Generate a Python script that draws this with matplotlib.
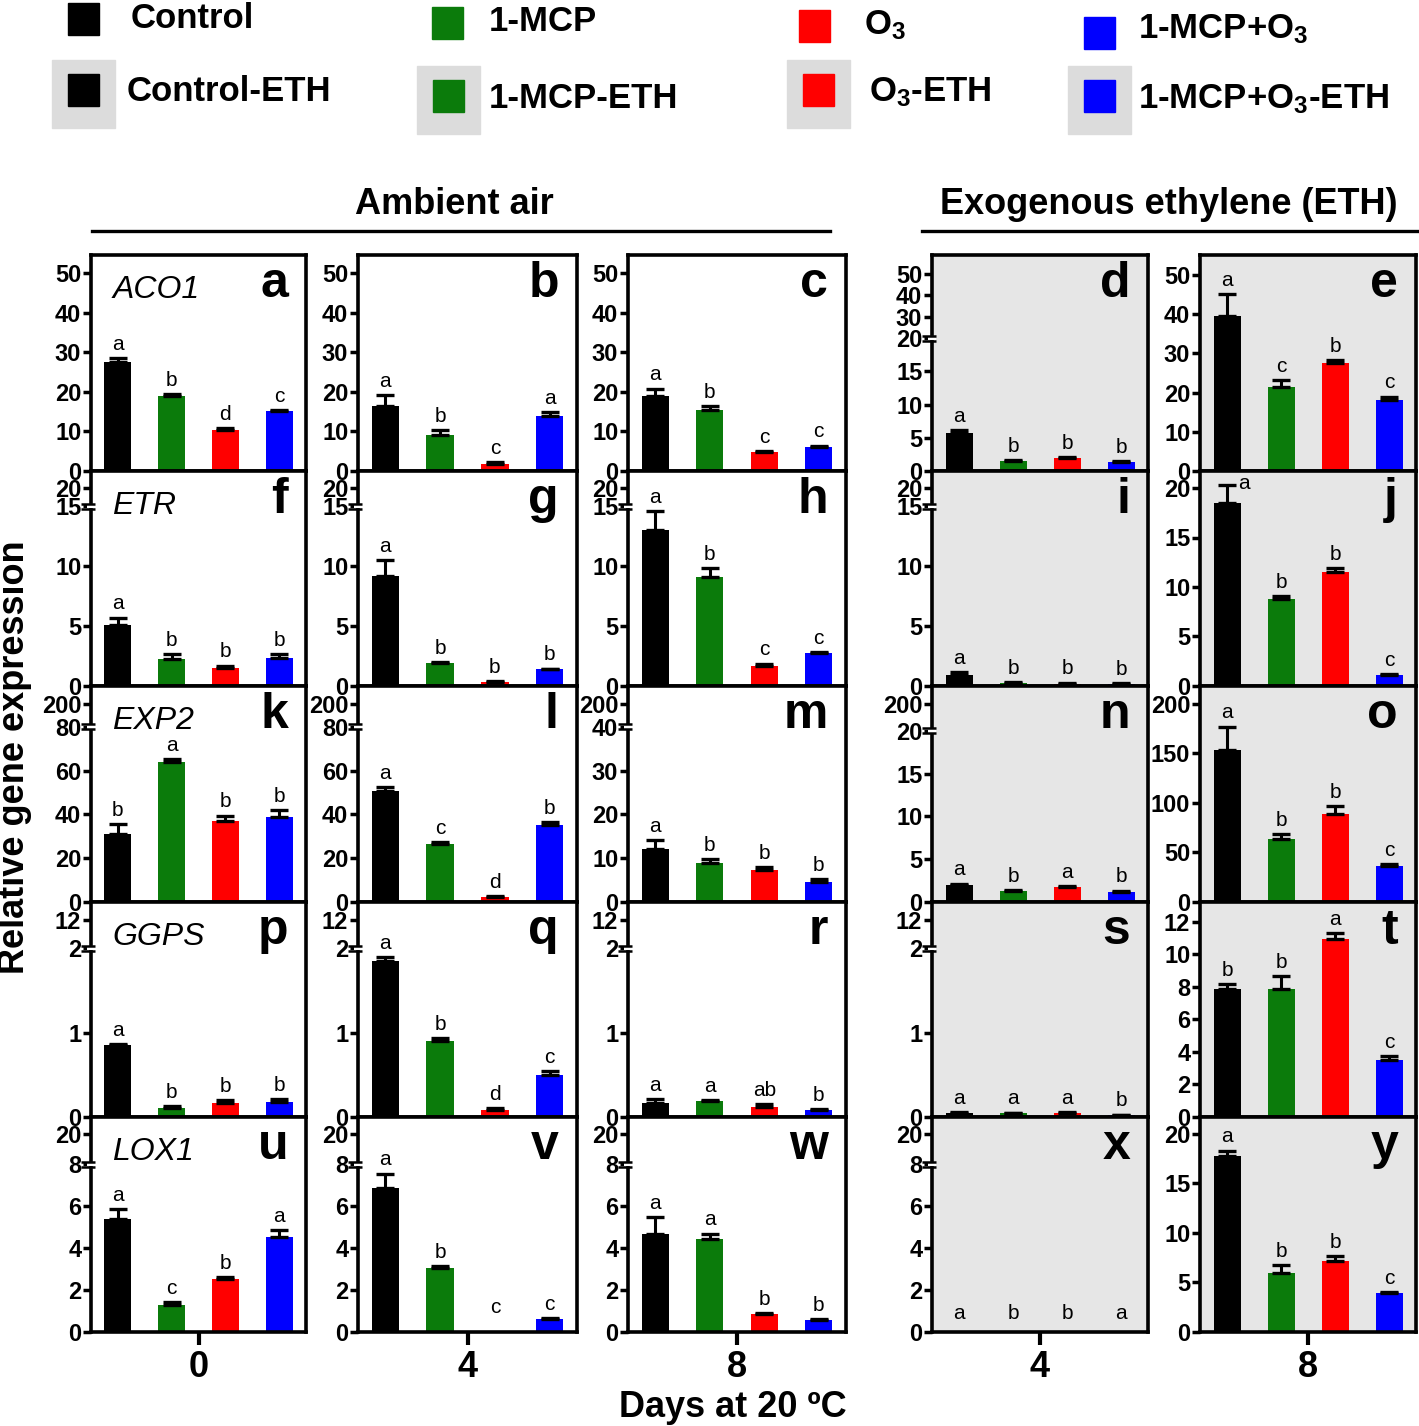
import matplotlib
matplotlib.use('Agg')
import matplotlib.pyplot as plt
import numpy as np
from matplotlib.patches import Rectangle
from matplotlib.transforms import blended_transform_factory, ScaledTranslation

plt.rcParams['font.family'] = ['Liberation Sans', 'DejaVu Sans']
plt.rcParams['mathtext.fontset'] = 'custom'
plt.rcParams['mathtext.rm'] = 'Liberation Sans:bold'
plt.rcParams['mathtext.bf'] = 'Liberation Sans:bold'
plt.rcParams['mathtext.it'] = 'Liberation Sans:bold:italic'

# --- data -------------------------------------------------------------
treatments = ['Control', '1-MCP', 'O3', '1-MCP+O3']
bar_colors = ['#000000', '#0b7b0b', '#ff0000', '#0000ff']
genes = ['ACO1', 'ETR', 'EXP2', 'GGPS', 'LOX1']
days = ['0', '4', '8', '4', '8']
panel_ids = 'abcdefghijklmnopqrstuvwxy'

# one inner list per column: day 0, 4, 8 (ambient air), day 4, 8 (ETH)
aco1_mean = [[27.4, 18.9, 10.4, 15.2], [16.5, 9.2, 1.8, 14.0], [19.0, 15.5, 4.8, 6.1],
             [5.65, 1.5, 1.9, 1.3], [39.6, 21.4, 27.5, 18.0]]
aco1_err = [[1.2, 0.5, 0.4, 0.2], [2.6, 1.1, 0.4, 0.8], [1.8, 0.9, 0.2, 0.3],
            [0.5, 0.2, 0.25, 0.2], [5.5, 1.7, 0.7, 1.0]]
aco1_sig = [['a', 'b', 'd', 'c'], ['a', 'b', 'c', 'a'], ['a', 'b', 'c', 'c'],
            ['a', 'b', 'b', 'b'], ['a', 'c', 'b', 'c']]

etr_mean = [[5.1, 2.26, 1.5, 2.35], [9.2, 1.9, 0.3, 1.4], [13.0, 9.05, 1.65, 2.74],
            [0.95, 0.22, 0.2, 0.14], [18.5, 8.8, 11.5, 1.08]]
etr_err = [[0.6, 0.4, 0.2, 0.3], [1.3, 0.1, 0.1, 0.05], [1.55, 0.75, 0.22, 0.11],
           [0.22, 0.08, 0.08, 0.08], [1.8, 0.25, 0.4, 0.12]]
etr_sig = [['a', 'b', 'b', 'b'], ['a', 'b', 'b', 'b'], ['a', 'b', 'c', 'c'],
           ['a', 'b', 'b', 'b'], ['a', 'b', 'b', 'c']]

exp2_mean = [[31.2, 64.2, 37.1, 38.9], [50.8, 26.5, 2.1, 35.1], [12.2, 8.85, 7.2, 4.5],
             [1.95, 1.25, 1.76, 1.2], [153.0, 63.7, 89.2, 36.3]]
exp2_err = [[4.3, 1.3, 2.4, 3.2], [1.9, 0.8, 0.7, 1.3], [1.9, 1.0, 0.7, 0.65],
            [0.2, 0.15, 0.12, 0.13], [24.0, 4.4, 7.4, 2.3]]
exp2_sig = [['b', 'a', 'b', 'b'], ['a', 'c', 'd', 'b'], ['a', 'b', 'b', 'b'],
            ['a', 'b', 'a', 'b'], ['a', 'b', 'b', 'c']]

ggps_mean = [[0.855, 0.11, 0.165, 0.173], [1.85, 0.905, 0.088, 0.5], [0.17, 0.19, 0.12, 0.084],
             [0.048, 0.044, 0.048, 0.024], [7.87, 7.87, 10.9, 3.48]]
ggps_err = [[0.012, 0.015, 0.032, 0.037], [0.04, 0.025, 0.022, 0.04], [0.04, 0.01, 0.036, 0.012],
            [0.012, 0.008, 0.008, 0.004], [0.31, 0.78, 0.4, 0.25]]
ggps_sig = [['a', 'b', 'b', 'b'], ['a', 'b', 'd', 'c'], ['a', 'a', 'ab', 'b'],
            ['a', 'a', 'a', 'b'], ['b', 'b', 'a', 'c']]

lox1_mean = [[5.39, 1.28, 2.51, 4.53], [6.86, 3.06, 0.0, 0.6], [4.67, 4.43, 0.85, 0.59],
             [0.02, 0.02, 0.02, 0.02], [17.8, 5.95, 7.18, 3.91]]
lox1_err = [[0.45, 0.14, 0.11, 0.32], [0.68, 0.08, 0.0, 0.08], [0.79, 0.26, 0.06, 0.03],
            [0.0, 0.0, 0.0, 0.0], [0.5, 0.78, 0.47, 0.14]]
lox1_sig = [['a', 'c', 'b', 'a'], ['a', 'b', 'c', 'c'], ['a', 'a', 'b', 'b'],
            ['a', 'b', 'b', 'a'], ['a', 'b', 'b', 'c']]

means = [aco1_mean, etr_mean, exp2_mean, ggps_mean, lox1_mean]
errs = [aco1_err, etr_err, exp2_err, ggps_err, lox1_err]
sigs = [aco1_sig, etr_sig, exp2_sig, ggps_sig, lox1_sig]

# --- y axis layout: (knot values, knot heights in px, ticks, break value) ----
axis_cfg = [
    [([0, 50], [0, 198], [0, 10, 20, 30, 40, 50], None)] * 3 +
    [([0, 20, 50], [0, 133, 197], [0, 5, 10, 15, 20, 30, 40, 50], 20),
     ([0, 50], [0, 196], [0, 10, 20, 30, 40, 50], None)],
    [([0, 15, 20], [0, 180, 198], [0, 5, 10, 15, 20], 15)] * 4 +
    [([0, 20], [0, 198], [0, 5, 10, 15, 20], None)],
    [([0, 80, 200], [0, 175, 198.4], [0, 20, 40, 60, 80, 200], 80)] * 2 +
    [([0, 40, 200], [0, 175, 198.4], [0, 10, 20, 30, 40, 200], 40),
     ([0, 20, 200], [0, 171, 198.4], [0, 5, 10, 15, 20, 200], 20),
     ([0, 200], [0, 198.3], [0, 50, 100, 150, 200], None)],
    [([0, 2, 12], [0, 169, 197.5], [0, 1, 2, 12], 2)] * 4 +
    [([0, 12], [0, 195.5], [0, 2, 4, 6, 8, 10, 12], None)],
    [([0, 8, 20], [0, 168, 198.4], [0, 2, 4, 6, 8, 20], 8)] * 4 +
    [([0, 20], [0, 198.3], [0, 5, 10, 15, 20], None)],
]

# manual nudges for some significance letters (points)
letter_shift = {('j', 0): (12, -6), ('v', 2): (0, 11),
                ('x', 0): (0, 6), ('x', 1): (0, 6), ('x', 2): (0, 6), ('x', 3): (0, 6)}

W, H = 1419, 1426
col_px = [(91, 306), (358, 577), (628, 846), (932, 1148), (1200, 1416)]
row_px = [(255, 471), (471, 686), (686, 902), (902, 1117), (1117, 1332)]
grey_bg = '#e6e6e6'


def make_scale(vals, px, height):
    vals = np.asarray(vals, float)
    px = np.asarray(px, float) / height
    s0 = (px[1] - px[0]) / (vals[1] - vals[0])
    s1 = (px[-1] - px[-2]) / (vals[-1] - vals[-2])

    def fwd(v):
        v = np.asarray(v, float)
        out = np.interp(v, vals, px)
        out = np.where(v < vals[0], px[0] + (v - vals[0]) * s0, out)
        return np.where(v > vals[-1], px[-1] + (v - vals[-1]) * s1, out)

    def inv(y):
        y = np.asarray(y, float)
        out = np.interp(y, px, vals)
        out = np.where(y < px[0], vals[0] + (y - px[0]) / s0, out)
        return np.where(y > px[-1], vals[-1] + (y - px[-1]) / s1, out)

    return fwd, inv


fig = plt.figure(figsize=(W / 100, H / 100), dpi=100)
x = np.arange(4)

for r in range(5):
    for c in range(5):
        pid = panel_ids[r * 5 + c]
        x0, x1 = col_px[c]
        y0, y1 = row_px[r]
        ax = fig.add_axes([x0 / W, 1 - y1 / H, (x1 - x0) / W, (y1 - y0) / H])
        vals, px, ticks, brk = axis_cfg[r][c]
        fwd, inv = make_scale(vals, px, y1 - y0)
        ax.set_yscale('function', functions=(fwd, inv))
        ax.set_ylim(0, float(inv(1.0)))
        ax.set_xlim(-0.5, 3.5)
        if c >= 3:
            ax.set_facecolor(grey_bg)

        m = np.array(means[r][c])
        e = np.array(errs[r][c])
        ax.bar(x, m, width=0.5, color=bar_colors, zorder=2)
        has = e > 0
        ax.errorbar(x[has], m[has], yerr=[np.zeros(has.sum()), e[has]], fmt='none',
                    ecolor='black', elinewidth=2.2, capsize=6.5, capthick=2.4, zorder=3)
        for i in range(4):
            dx, dy = letter_shift.get((pid, i), (0, 3))
            ax.annotate(sigs[r][c][i], (x[i], m[i] + e[i]), xytext=(dx, dy),
                        textcoords='offset points', ha='center', va='bottom', fontsize=15)

        ax.set_yticks(ticks, [str(t) for t in ticks], fontsize=17, fontweight='bold')
        ax.minorticks_off()
        ax.tick_params(axis='y', direction='out', length=6, width=2.5, pad=1)
        if r == 4:
            ax.set_xticks([1.5], [days[c]], fontsize=26, fontweight='bold')
            ax.tick_params(axis='x', direction='out', length=9, width=3, pad=4)
        else:
            ax.set_xticks([])
        for sp in ax.spines.values():
            sp.set_linewidth(2.6)

        if brk is not None:
            tr = blended_transform_factory(ax.transAxes, ax.transData)
            ax.plot([-0.02, 0.02], [brk, brk], color='white', lw=3, transform=tr,
                    clip_on=False, zorder=6, solid_capstyle='butt')
            for off in (-2.5, 2.5):
                t2 = tr + ScaledTranslation(0, off / 100, fig.dpi_scale_trans)
                ax.plot([-0.045, 0.02], [brk, brk], color='black', lw=1.8, transform=t2,
                        clip_on=False, zorder=7, solid_capstyle='butt')

        ax.text(0.917, 0.805, pid, transform=ax.transAxes, ha='right', va='baseline',
                fontsize=36, fontweight='bold')
        if c == 0:
            ax.text(0.1, 0.80, genes[r], transform=ax.transAxes, ha='left', va='baseline',
                    fontsize=23, fontstyle='italic')

# --- overlay for legend, headers and labels (pixel coordinates) ----------
ov = fig.add_axes([0, 0, 1, 1], zorder=-1)
ov.set_xlim(0, W)
ov.set_ylim(H, 0)
ov.axis('off')

legend_items = [
    ('Control', 0, (68, 3), (131, 28), False),
    ('1-MCP', 1, (432, 7), (489, 31), False),
    ('O$_3$', 2, (799, 10), (864, 34), False),
    ('1-MCP+O$_3$', 3, (1084, 17), (1138, 38), False),
    ('Control-ETH', 0, (68, 74), (127, 101), True),
    ('1-MCP-ETH', 1, (433, 80), (489, 108), True),
    ('O$_3$-ETH', 2, (803, 74), (869, 101), True),
    ('1-MCP+O$_3$-ETH', 3, (1084, 80), (1138, 108), True),
]
for label, ci, (sx, sy), (tx, ty), eth in legend_items:
    if eth:
        ov.add_patch(Rectangle((sx - 16, sy - 14), 63, 68, color='#dcdcdc', zorder=1))
    ov.add_patch(Rectangle((sx, sy), 31, 32, color=bar_colors[ci], zorder=2))
    ov.text(tx, ty, label, fontsize=25, fontweight='bold', ha='left', va='baseline')

ov.text(454, 214, 'Ambient air', fontsize=26, fontweight='bold', ha='center', va='baseline')
ov.plot([92, 830], [231, 231], color='black', lw=2.4)
ov.text(1169, 214, 'Exogenous ethylene (ETH)', fontsize=26, fontweight='bold',
        ha='center', va='baseline')
ov.plot([922, 1417], [231, 231], color='black', lw=2.4)
ov.text(15, 757, 'Relative gene expression', fontsize=26, fontweight='bold',
        rotation=90, ha='center', va='center')
ov.text(733, 1417, 'Days at 20 \u00baC', fontsize=26, fontweight='bold',
        ha='center', va='baseline')

fig.savefig('out.png', dpi=100)
